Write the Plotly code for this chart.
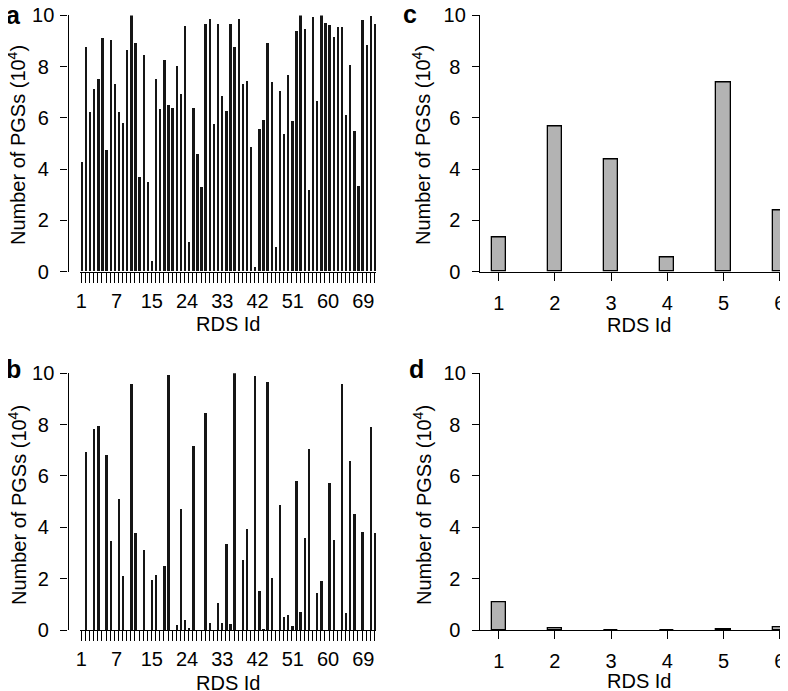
import numpy as np
import plotly.graph_objects as go

W, H = 788, 691
OFF = 8  # page body margin: figure is drawn 8px right/down in the screenshot

# ---------------- data ----------------
rds_ids_ab = list(range(1, 73))
pgs_a = [4.26, 8.75, 6.2, 7.1, 7.5, 9.09, 4.74, 9.01, 7.29, 6.2,
         5.77, 8.65, 9.99, 8.89, 3.67, 8.44, 3.49, 0.38, 7.49, 6.33,
         8.24, 6.5, 6.37, 8.0, 6.93, 9.58, 1.12, 6.37, 4.56, 3.28,
         9.66, 9.86, 5.73, 9.66, 6.84, 6.24, 9.65, 8.76, 9.83, 7.29,
         7.41, 4.86, 0.17, 5.55, 5.91, 8.89, 7.38, 0.94, 7.02, 5.35,
         7.67, 5.87, 9.39, 9.99, 9.47, 3.18, 9.92, 6.63, 9.99, 9.69,
         9.61, 9.14, 9.53, 9.53, 6.08, 8.06, 5.47, 3.31, 9.79, 8.82,
         9.95, 9.65]
pgs_b = [0, 6.91, 0, 7.81, 7.94, 0, 6.8, 3.44, 0, 5.08,
         2.08, 0, 9.56, 3.76, 0, 3.1, 0, 1.93, 2.13, 0,
         2.5, 9.92, 0, 0.17, 4.72, 0.36, 0.05, 7.15, 0, 0,
         8.46, 0.27, 0, 1.04, 0.25, 3.32, 0.22, 9.99, 0, 2.7,
         3.93, 0, 9.88, 1.49, 0.02, 9.66, 2.01, 0, 4.86, 0.49,
         0.58, 0.13, 5.81, 0.69, 3.57, 7.03, 0, 1.43, 1.91, 0,
         5.73, 3.48, 0, 9.56, 0.67, 6.56, 4.51, 0, 3.8, 0,
         7.9, 3.75]
tick_labels_ab = ["1", "7", "15", "24", "33", "42", "51", "60", "69"]

rds_ids_cd = [1, 2, 3, 4, 5, 6]
pgs_c = [1.33, 5.65, 4.39, 0.56, 7.37, 2.39]
pgs_d = [1.06, 0.05, 0, 0, 0.01, 0.12]

y_ticks = [0, 2, 4, 6, 8, 10]

# ---------------- styling ----------------
FONT = "Liberation Sans, Arial, Helvetica, sans-serif"
TICKFONT = dict(family=FONT, size=20, color="black")
y_ticktext = [str(v) + ("\u00a0" if v < 10 else "") for v in y_ticks]
label_pos_ab = list(np.linspace(1, 69.3, len(tick_labels_ab)))

def px(x):
    return (x - OFF) / W

def py(y):
    return (H - (y - OFF)) / H

fig = go.Figure()

for vals, xa, ya in [(pgs_a, "x", "y"), (pgs_b, "x2", "y2")]:
    fig.add_trace(go.Bar(x=rds_ids_ab, y=vals, xaxis=xa, yaxis=ya, width=0.58,
                         marker=dict(color="#151515", line=dict(width=0)),
                         showlegend=False))
for xa, ya in [("x5", "y"), ("x6", "y2")]:
    fig.add_trace(go.Scatter(x=[rds_ids_ab[0]], y=[0], xaxis=xa, yaxis=ya,
                             mode="markers", marker=dict(opacity=0),
                             hoverinfo="skip", showlegend=False))
for vals, xa, ya in [(pgs_c, "x3", "y3"), (pgs_d, "x4", "y4")]:
    fig.add_trace(go.Bar(x=rds_ids_cd, y=vals, xaxis=xa, yaxis=ya, width=0.255,
                         marker=dict(color="#b3b3b3", line=dict(color="black", width=1.3)),
                         showlegend=False))

top_dom = [py(271.5), py(15.4)]
bot_dom = [py(630), py(373.3)]
ab_dom = [px(79.5), px(376.3)]
ab_range = [0.564, 72.436]
cd_dom = [px(480), 1.0]
cd_range = [0.667, 6.29]

def yaxis_cfg(domain, anchor, free_pos=None):
    d = dict(domain=domain, range=[0, 10], tickmode="array", tickvals=y_ticks,
             ticktext=y_ticktext, ticks="outside", ticklen=7, tickwidth=1.2,
             tickcolor="black", showline=True, linecolor="black", linewidth=1.3,
             showgrid=False, zeroline=False, tickfont=TICKFONT, ticklabelstandoff=2,
             ticklabeloverflow="allow", automargin=False, anchor=anchor)
    if free_pos is not None:
        d.update(anchor="free", position=free_pos)
    return d

def xaxis_lab(anchor):
    return dict(domain=ab_dom, range=ab_range, anchor=anchor, tickmode="array",
                tickvals=label_pos_ab, ticktext=tick_labels_ab, ticks="",
                showline=False, showgrid=False, zeroline=False, tickfont=TICKFONT,
                ticklabelstandoff=15, ticklabeloverflow="allow", automargin=False)

def xaxis_ticks(over, anchor):
    return dict(overlaying=over, anchor=anchor, range=ab_range, tickmode="array",
                tickvals=rds_ids_ab, ticks="outside", ticklen=10, tickwidth=1,
                tickcolor="black", showticklabels=False, showline=True,
                linecolor="black", linewidth=1.3, showgrid=False, zeroline=False,
                automargin=False)

def xaxis_cd(anchor):
    return dict(domain=cd_dom, range=cd_range, anchor=anchor, tickmode="array",
                tickvals=rds_ids_cd, ticks="outside", ticklen=8, tickwidth=1.2,
                tickcolor="black", showline=True, linecolor="black", linewidth=1.3,
                showgrid=False, zeroline=False, tickfont=TICKFONT, ticklabelstandoff=5,
                ticklabeloverflow="allow", automargin=False)

fig.update_layout(
    width=W, height=H, margin=dict(l=0, r=0, t=0, b=0, pad=0, autoexpand=False),
    paper_bgcolor="white", plot_bgcolor="white", bargap=0,
    font=dict(family=FONT, color="black"),
    xaxis=xaxis_lab("y"), xaxis2=xaxis_lab("y2"),
    xaxis5=xaxis_ticks("x", "y"), xaxis6=xaxis_ticks("x2", "y2"),
    xaxis3=xaxis_cd("y3"), xaxis4=xaxis_cd("y4"),
    yaxis=yaxis_cfg(top_dom, "x", px(67.5)),
    yaxis2=yaxis_cfg(bot_dom, "x2", px(67.5)),
    yaxis3=yaxis_cfg(top_dom, "x3"),
    yaxis4=yaxis_cfg(bot_dom, "x4"),
)

ann = []
ytitle = "Number of PGSs (10<sup>4</sup>)"
for (xc, yc) in [(17, 145), (17, 505), (422, 145), (422, 505)]:
    ann.append(dict(text=ytitle, x=px(xc), y=py(yc), xref="paper", yref="paper",
                    textangle=-90, showarrow=False, xanchor="center", yanchor="middle",
                    font=dict(family=FONT, size=20, color="black")))
for (xc, yc) in [(228, 324), (228, 683), (639, 325), (639, 681)]:
    ann.append(dict(text="RDS Id", x=px(xc), y=py(yc), xref="paper", yref="paper",
                    showarrow=False, xanchor="center", yanchor="middle",
                    font=dict(family=FONT, size=20, color="black")))
for (lab, xc, yc) in [("a", 13, 15), ("b", 13, 369), ("c", 410, 14), ("d", 416, 369)]:
    ann.append(dict(text="<b>%s</b>" % lab, x=px(xc), y=py(yc), xref="paper", yref="paper",
                    showarrow=False, xanchor="center", yanchor="middle",
                    font=dict(family=FONT, size=25, color="black")))
fig.update_layout(annotations=ann)

fig.write_html("out.html")
